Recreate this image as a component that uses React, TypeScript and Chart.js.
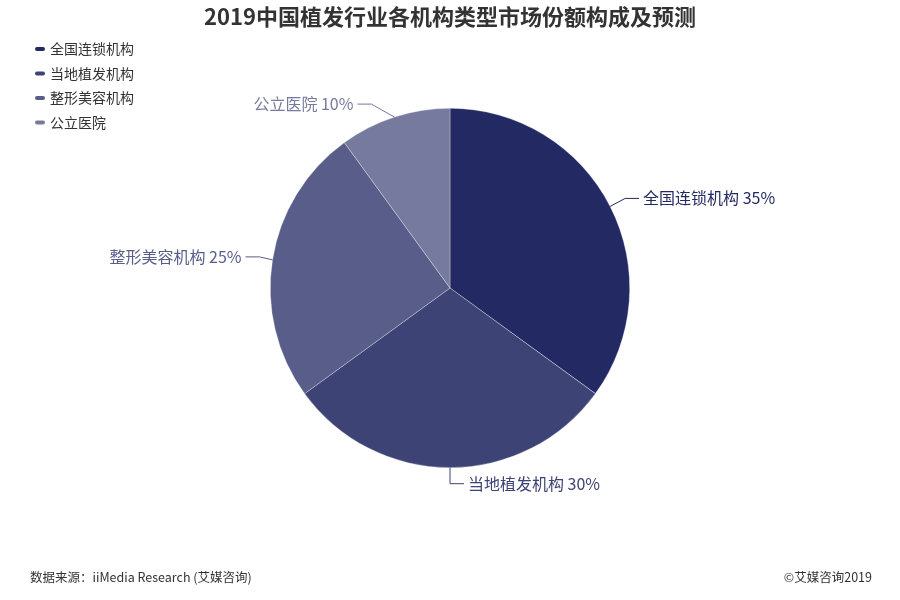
import React, { useEffect, useRef } from "react";
import { Chart, registerables, Plugin } from "chart.js";

Chart.register(...registerables);

const titleText = "2019中国植发行业各机构类型市场份额构成及预测";
const categories = ["全国连锁机构", "当地植发机构", "整形美容机构", "公立医院"];
const shares = [35, 30, 25, 10];
const sliceColors = ["#232962", "#3d4375", "#595d8a", "#767a9e"];
const sourceText = "数据来源：iiMedia Research (艾媒咨询)";
const copyrightText = "©艾媒咨询2019";

const FONT = '"Noto Sans CJK SC", "Noto Sans", sans-serif';

// elbow of each leader line, relative to the point on the slice edge
const elbowOffsets: [number, number][] = [
  [15, -8],
  [0, 16],
  [-13, -3],
  [-23, -13],
];

// labels with leader lines, legend, title and footer
const decorPlugin: Plugin<"pie"> = {
  id: "decor",
  afterDraw(chart) {
    const ctx = chart.ctx;
    const meta = chart.getDatasetMeta(0);
    const total = shares.reduce((a, b) => a + b, 0);

    ctx.save();
    meta.data.forEach((el: any, i: number) => {
      const mid = (el.startAngle + el.endAngle) / 2;
      const r = el.outerRadius;
      const cos = Math.cos(mid);
      const x0 = el.x + cos * r;
      const y0 = el.y + Math.sin(mid) * r;
      const [dx, dy] = elbowOffsets[i];
      const x1 = x0 + dx;
      const y1 = y0 + dy;
      const right = cos >= -0.01;
      const x2 = x1 + (right ? 14 : -14);
      ctx.strokeStyle = sliceColors[i];
      ctx.lineWidth = 1;
      ctx.beginPath();
      ctx.moveTo(x0, y0);
      ctx.lineTo(x1, y1);
      ctx.lineTo(x2, y1);
      ctx.stroke();
      const pct = Math.round((shares[i] / total) * 100);
      ctx.fillStyle = sliceColors[i];
      ctx.font = `16px ${FONT}`;
      ctx.textBaseline = "middle";
      ctx.textAlign = right ? "left" : "right";
      ctx.fillText(`${categories[i]} ${pct}%`, x2 + (right ? 4 : -4), y1);
    });

    // legend
    categories.forEach((c, i) => {
      const y = 49 + i * 24.5;
      ctx.fillStyle = sliceColors[i];
      ctx.beginPath();
      ctx.roundRect(35, y - 2, 10, 4, 2);
      ctx.fill();
      ctx.fillStyle = "#333";
      ctx.font = `14px ${FONT}`;
      ctx.textAlign = "left";
      ctx.textBaseline = "middle";
      ctx.fillText(c, 50, y);
    });

    // title
    ctx.fillStyle = "#333";
    ctx.font = `bold 22px ${FONT}`;
    ctx.textAlign = "center";
    ctx.textBaseline = "middle";
    ctx.fillText(titleText, 450, 17);

    // footer
    ctx.font = `12.5px ${FONT}`;
    ctx.fillStyle = "#333";
    ctx.textAlign = "left";
    ctx.fillText(sourceText, 30, 577);
    ctx.textAlign = "right";
    ctx.fillText(copyrightText, 872, 577);
    ctx.restore();
  },
};

export default function App() {
  const canvasRef = useRef<HTMLCanvasElement | null>(null);

  useEffect(() => {
    document.body.style.margin = "0";
    if (!canvasRef.current) return;
    const chart = new Chart(canvasRef.current, {
      type: "pie",
      data: {
        labels: categories,
        datasets: [
          {
            data: shares,
            backgroundColor: sliceColors,
            borderColor: "rgba(255,255,255,0.5)",
            borderWidth: 0.6,
          },
        ],
      },
      options: {
        responsive: true,
        maintainAspectRatio: false,
        animation: false,
        layout: {
          padding: { top: 108, bottom: 132, left: 200, right: 200 },
        },
        plugins: {
          legend: { display: false },
          title: { display: false },
          tooltip: { enabled: false },
        },
      },
      plugins: [decorPlugin],
    });
    return () => chart.destroy();
  }, []);

  return (
    <div style={{ width: 900, height: 600, position: "relative", background: "#fff" }}>
      <canvas ref={canvasRef}></canvas>
    </div>
  );
}
